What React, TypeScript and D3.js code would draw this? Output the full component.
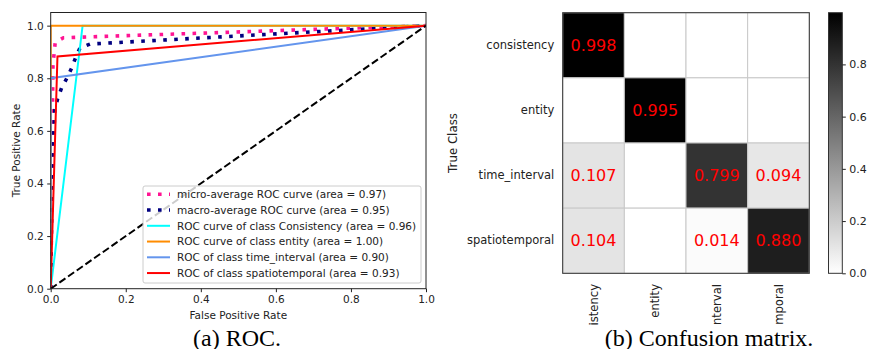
import React, { useEffect, useRef } from 'react';
import * as d3 from 'd3';

// ROC curves: [fpr, tpr]
const microAvg: [number, number][] = [[0, 0], [0.006, 0.85], [0.012, 0.936], [0.034, 0.954], [1, 1]];
const macroAvg: [number, number][] = [
  [0, 0], [0.004, 0.45], [0.011, 0.68], [0.019, 0.725], [0.029, 0.763], [0.043, 0.8],
  [0.056, 0.839], [0.067, 0.881], [0.078, 0.915], [0.105, 0.93], [1, 1],
];
const rocConsistency: [number, number][] = [[0, 0], [0.085, 1], [1, 1]];
const rocEntity: [number, number][] = [[0, 0], [0, 1], [1, 1]];
const rocTimeInterval: [number, number][] = [[0, 0], [0, 0.8], [1, 1]];
const rocSpatio: [number, number][] = [[0, 0], [0.018, 0.883], [1, 1]];
const diagonal: [number, number][] = [[0, 0], [1, 1]];

const legendLabels = [
  'micro-average ROC curve (area = 0.97)',
  'macro-average ROC curve (area = 0.95)',
  'ROC curve of class Consistency (area = 0.96)',
  'ROC curve of class entity (area = 1.00)',
  'ROC of class time_interval (area = 0.90)',
  'ROC of class spatiotemporal (area = 0.93)',
];
const rocTicks = [0, 0.2, 0.4, 0.6, 0.8, 1.0];

// confusion matrix
const classes = ['consistency', 'entity', 'time_interval', 'spatiotemporal'];
const matrix = [
  [0.998, 0, 0, 0],
  [0, 0.995, 0, 0],
  [0.107, 0, 0.799, 0.094],
  [0.104, 0, 0.014, 0.88],
];
const colorbarTicks = [0, 0.2, 0.4, 0.6, 0.8];

const FONT = 'DejaVu Sans, sans-serif';

const App = () => {
  const svgRef = useRef<SVGSVGElement>(null);

  useEffect(() => {
    const svg = d3.select(svgRef.current);
    svg.selectAll('*').remove();

    // ---------- (a) ROC ----------
    const roc = { left: 50.7, right: 426, top: 12.5, bottom: 288.7 };
    const x = d3.scaleLinear().domain([0, 1]).range([roc.left, roc.right]);
    const y = d3.scaleLinear().domain([0, 1.05]).range([roc.bottom, roc.top]);

    const defs = svg.append('defs');
    defs.append('clipPath').attr('id', 'roc-clip')
      .append('rect')
      .attr('x', roc.left).attr('y', roc.top)
      .attr('width', roc.right - roc.left).attr('height', roc.bottom - roc.top);

    const line = d3.line<[number, number]>().x(d => x(d[0])).y(d => y(d[1]));

    const series = [
      { data: microAvg, color: '#ff1493', width: 3.6, dash: '3.6,7.4' },
      { data: macroAvg, color: '#000080', width: 3.6, dash: '3.6,7.4' },
      { data: rocConsistency, color: '#00ffff', width: 2, dash: null },
      { data: rocEntity, color: '#ff8c00', width: 2, dash: null },
      { data: rocTimeInterval, color: '#6495ed', width: 2, dash: null },
      { data: rocSpatio, color: '#ff0000', width: 2, dash: null },
    ];

    const plot = svg.append('g').attr('clip-path', 'url(#roc-clip)');
    series.forEach(s => {
      plot.append('path')
        .datum(s.data)
        .attr('fill', 'none')
        .attr('stroke', s.color)
        .attr('stroke-width', s.width)
        .attr('stroke-dasharray', s.dash)
        .attr('d', line);
    });
    plot.append('path')
      .datum(diagonal)
      .attr('fill', 'none')
      .attr('stroke', 'black')
      .attr('stroke-width', 2)
      .attr('stroke-dasharray', '7.4,3.2')
      .attr('d', line);

    // spines
    svg.append('rect')
      .attr('x', roc.left).attr('y', roc.top)
      .attr('width', roc.right - roc.left).attr('height', roc.bottom - roc.top)
      .attr('fill', 'none').attr('stroke', '#222').attr('stroke-width', 1);

    const styleAxis = (g: d3.Selection<SVGGElement, unknown, null, undefined>) => {
      g.select('.domain').remove();
      g.selectAll('line').attr('stroke', '#222');
      g.selectAll('text').attr('fill', '#222').attr('font-family', FONT).attr('font-size', 10.5);
    };

    svg.append('g')
      .attr('transform', `translate(0,${roc.bottom})`)
      .call(d3.axisBottom(x).tickValues(rocTicks).tickSize(3.5).tickPadding(3.5).tickFormat(d3.format('.1f')))
      .call(styleAxis);
    svg.append('g')
      .attr('transform', `translate(${roc.left},0)`)
      .call(d3.axisLeft(y).tickValues(rocTicks).tickSize(3.5).tickPadding(3.5).tickFormat(d3.format('.1f')))
      .call(styleAxis);

    svg.append('text')
      .attr('x', (roc.left + roc.right) / 2).attr('y', 319)
      .attr('text-anchor', 'middle')
      .attr('font-family', FONT).attr('font-size', 10.5).attr('fill', '#222')
      .text('False Positive Rate');
    svg.append('text')
      .attr('transform', `translate(20,${(roc.top + roc.bottom) / 2}) rotate(-90)`)
      .attr('text-anchor', 'middle')
      .attr('font-family', FONT).attr('font-size', 10.5).attr('fill', '#222')
      .text('True Positive Rate');

    // legend
    const leg = svg.append('g');
    leg.append('rect')
      .attr('x', 143).attr('y', 186).attr('width', 278).attr('height', 97)
      .attr('rx', 2)
      .attr('fill', 'white').attr('fill-opacity', 0.8)
      .attr('stroke', '#cccccc').attr('stroke-width', 1);
    legendLabels.forEach((label, i) => {
      const s = series[i];
      const ly = 194.3 + i * 15.75;
      leg.append('line')
        .attr('x1', 147).attr('x2', 170).attr('y1', ly).attr('y2', ly)
        .attr('stroke', s.color).attr('stroke-width', s.width)
        .attr('stroke-dasharray', s.dash);
      leg.append('text')
        .attr('x', 177).attr('y', ly)
        .attr('dy', '0.36em')
        .attr('font-family', FONT).attr('font-size', 10.5).attr('fill', '#222')
        .text(label);
    });

    // ---------- (b) Confusion matrix ----------
    const cm = { left: 562.7, right: 809.3, top: 12.7, bottom: 273.3 };
    const cx = d3.scaleBand().domain(classes).range([cm.left, cm.right]);
    const cy = d3.scaleBand().domain(classes).range([cm.top, cm.bottom]);
    const vmax = 0.998;
    const color = d3.scaleLinear<string>().domain([0, vmax]).range(['#ffffff', '#000000']).clamp(true);

    const cells = svg.append('g');
    matrix.forEach((row, i) => {
      row.forEach((v, j) => {
        cells.append('rect')
          .attr('x', cx(classes[j])!).attr('y', cy(classes[i])!)
          .attr('width', cx.bandwidth()).attr('height', cy.bandwidth())
          .attr('fill', color(v))
          .attr('stroke', '#c8c8c8').attr('stroke-width', 1);
        if (v > 0) {
          cells.append('text')
            .attr('x', cx(classes[j])! + cx.bandwidth() / 2)
            .attr('y', cy(classes[i])! + cy.bandwidth() / 2)
            .attr('dy', '0.36em')
            .attr('text-anchor', 'middle')
            .attr('font-family', FONT).attr('font-size', 16)
            .attr('fill', '#ff0000')
            .text(d3.format('.3f')(v));
        }
      });
    });
    svg.append('rect')
      .attr('x', cm.left).attr('y', cm.top)
      .attr('width', cm.right - cm.left).attr('height', cm.bottom - cm.top)
      .attr('fill', 'none').attr('stroke', '#333').attr('stroke-width', 1);

    svg.append('g')
      .attr('transform', `translate(${cm.left},0)`)
      .call(d3.axisLeft(cy).tickSize(0).tickPadding(8.5))
      .call(g => {
        g.select('.domain').remove();
        g.selectAll('text').attr('fill', '#222').attr('font-family', FONT).attr('font-size', 11.5);
      });

    // the original figure was cropped just below these labels
    defs.append('clipPath').attr('id', 'xlab-clip')
      .append('rect').attr('x', 540).attr('y', 274).attr('width', 300).attr('height', 51);
    const xlab = svg.append('g').attr('clip-path', 'url(#xlab-clip)');
    classes.forEach(c => {
      xlab.append('text')
        .attr('transform', `translate(${cx(c)! + cx.bandwidth() / 2},284) rotate(-90)`)
        .attr('text-anchor', 'end')
        .attr('dy', '0.36em')
        .attr('font-family', FONT).attr('font-size', 11.6).attr('fill', '#222')
        .text(c);
    });

    svg.append('text')
      .attr('transform', `translate(457,${(cm.top + cm.bottom) / 2}) rotate(-90)`)
      .attr('text-anchor', 'middle')
      .attr('font-family', FONT).attr('font-size', 11.8).attr('fill', '#222')
      .text('True Class');

    // colorbar
    const cb = { left: 828.5, right: 842.3 };
    const grad = defs.append('linearGradient').attr('id', 'cb-grad')
      .attr('x1', 0).attr('y1', 1).attr('x2', 0).attr('y2', 0);
    grad.append('stop').attr('offset', '0%').attr('stop-color', '#ffffff');
    grad.append('stop').attr('offset', '100%').attr('stop-color', '#000000');
    svg.append('rect')
      .attr('x', cb.left).attr('y', cm.top)
      .attr('width', cb.right - cb.left).attr('height', cm.bottom - cm.top)
      .attr('fill', 'url(#cb-grad)')
      .attr('stroke', '#333').attr('stroke-width', 1);
    const cbScale = d3.scaleLinear().domain([0, vmax]).range([cm.bottom, cm.top]);
    svg.append('g')
      .attr('transform', `translate(${cb.right},0)`)
      .call(d3.axisRight(cbScale).tickValues(colorbarTicks).tickSize(3.5).tickPadding(3.5).tickFormat(d3.format('.1f')))
      .call(g => {
        g.select('.domain').remove();
        g.selectAll('line').attr('stroke', '#222');
        g.selectAll('text').attr('fill', '#222').attr('font-family', FONT).attr('font-size', 11);
      });

    // captions
    svg.append('text')
      .attr('x', 237).attr('y', 345.5)
      .attr('text-anchor', 'middle')
      .attr('font-family', 'Liberation Serif, Times New Roman, serif').attr('font-size', 24)
      .attr('fill', 'black')
      .text('(a) ROC.');
    svg.append('text')
      .attr('x', 709).attr('y', 345.5)
      .attr('text-anchor', 'middle')
      .attr('font-family', 'Liberation Serif, Times New Roman, serif').attr('font-size', 24)
      .attr('fill', 'black')
      .text('(b) Confusion matrix.');
  }, []);

  return (
    <svg
      ref={svgRef}
      width={870}
      height={349}
      style={{ position: 'absolute', left: 0, top: 0, background: 'white' }}
    />
  );
};

export default App;
